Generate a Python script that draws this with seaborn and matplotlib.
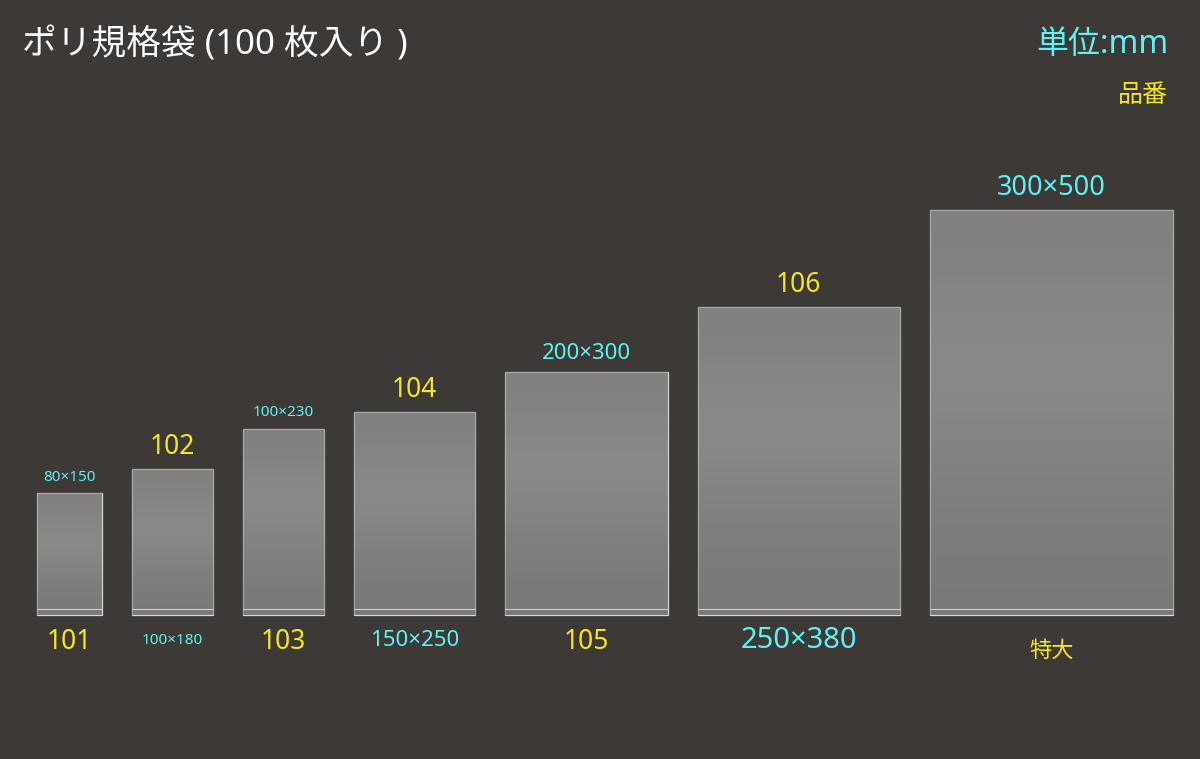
import numpy as np
import matplotlib
matplotlib.use("Agg")
import matplotlib.pyplot as plt
import seaborn as sns

# 袋のサイズ (mm) と品番
codes = ["101", "102", "103", "104", "105", "106", "特大"]
widths = [80, 100, 100, 150, 200, 250, 300]
heights = [150, 180, 230, 250, 300, 380, 500]
size_labels = [f"{w}×{h}" for w, h in zip(widths, heights)]

sns.set_theme(style="white")
plt.rcParams['font.family'] = ['Noto Sans', 'Noto Sans CJK JP', 'DejaVu Sans']

BG = "#3d3937"
CYAN = "#5ff2f2"
YELLOW = "#f7e81a"
GAP = 37

fig = plt.figure(figsize=(12, 7.59), dpi=100, facecolor=BG)
ax = fig.add_axes([0, 0, 1, 1])
ax.set_facecolor(BG)
ax.set_xlim(-45.7, 1435)
ax.set_ylim(-178, 759)
ax.axis("off")

lefts = np.concatenate([[0], np.cumsum(np.array(widths[:-1]) + GAP)])

# 上/下のラベルサイズ (pt)
size_fs = [11, 11, 11, 16, 16, 21, 19.5]
code_fs = 19

grad = np.array([0.50, 0.53, 0.56, 0.55, 0.50, 0.47, 0.45]).reshape(-1, 1)

for i, (x, w, h) in enumerate(zip(lefts, widths, heights)):
    bars = ax.bar(x, h, width=w, align="edge", color="#858180",
                  edgecolor="#d8d8d8", linewidth=0.9, zorder=2)
    im = ax.imshow(grad, cmap="gray", vmin=0, vmax=1, aspect="auto",
                   extent=(x, x + w, 0, h), alpha=0.55, zorder=2.5,
                   interpolation="bicubic")
    im.set_clip_path(bars[0])
    ax.plot([x, x + w], [7, 7], color="#cfcfcf", lw=0.8, zorder=3)
    cx = x + w / 2
    if i % 2 == 0:
        ax.text(cx, h + 10, size_labels[i], color=CYAN, fontsize=size_fs[i],
                ha="center", va="bottom")
        fs = 16 if codes[i] == "特大" else code_fs
        yb = -45 if codes[i] == "特大" else -33
        ax.text(cx, yb, codes[i], color=YELLOW, fontsize=fs, ha="center", va="center")
    else:
        ax.text(cx, h + 10, codes[i], color=YELLOW, fontsize=code_fs,
                ha="center", va="bottom")
        ax.text(cx, -32, size_labels[i], color=CYAN, fontsize=size_fs[i],
                ha="center", va="center")

fig.text(22 / 1200, 1 - 45 / 759, "ポリ規格袋 (100 枚入り )", color="white",
         fontsize=25, ha="left", va="center")
fig.text(1168 / 1200, 1 - 44 / 759, "単位:mm", color=CYAN, fontsize=23,
         ha="right", va="center")
fig.text(1168 / 1200, 1 - 95 / 759, "品番", color=YELLOW, fontsize=18,
         ha="right", va="center")

fig.savefig("out.png", dpi=100, facecolor=BG)
